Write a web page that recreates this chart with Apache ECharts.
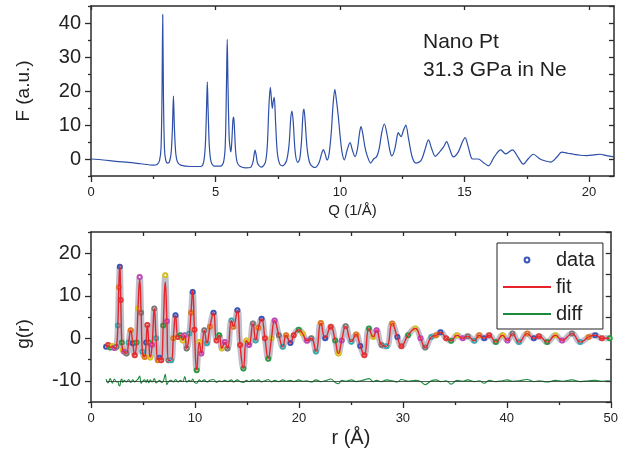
<!DOCTYPE html>
<html><head><meta charset="utf-8">
<script src="https://cdn.jsdelivr.net/npm/echarts@6/dist/echarts.min.js"></script>
<style>html,body{margin:0;padding:0;background:#fff}#c{width:621px;height:452px}</style>
</head><body><div id="c"></div>
<script>
// ---- Top panel: F(Q) ----
const qValues = [0,0.5,1.0,1.5,2.0,2.5,2.65,2.75,2.81,2.85,2.88,2.91,2.95,3.0,3.08,3.15,3.22,3.27,3.31,3.35,3.40,3.47,3.6,4.0,4.4,4.52,4.59,4.64,4.67,4.70,4.75,4.82,4.95,5.2,5.32,5.39,5.44,5.47,5.50,5.55,5.60,5.62,5.66,5.70,5.73,5.76,5.81,5.88,6.0,6.2,6.4,6.50,6.55,6.59,6.63,6.70,6.85,7.0,7.08,7.14,7.20,7.24,7.28,7.32,7.36,7.41,7.48,7.58,7.7,7.85,7.95,8.02,8.07,8.12,8.20,8.30,8.38,8.45,8.51,8.55,8.60,8.68,8.80,9.0,9.15,9.27,9.33,9.40,9.48,9.56,9.65,9.72,9.79,9.86,9.93,10.0,10.08,10.17,10.28,10.40,10.50,10.60,10.70,10.78,10.84,10.90,11.0,11.08,11.23,11.35,11.47,11.57,11.68,11.78,11.88,12.0,12.08,12.2,12.30,12.34,12.40,12.45,12.55,12.64,12.75,12.90,13.05,13.25,13.4,13.55,13.68,13.82,14.0,14.15,14.28,14.40,14.55,14.75,14.90,15.02,15.15,15.32,15.55,15.75,15.96,16.19,16.45,16.65,16.92,17.15,17.36,17.55,17.76,18.03,18.25,18.46,18.7,18.9,19.15,19.37,19.65,19.91,20.2,20.44,20.7,21.0];
const fValues = [0.0,-0.3,-0.7,-1.0,-1.4,-1.8,-1.6,-0.5,3,18,42.5,18,3,-0.3,-1.2,-0.8,2,9,18.5,9,2,-0.8,-1.8,-2.2,-2.2,-1.0,4,15,22.7,15,4,-0.8,-2.1,-2.1,-1.0,4,22,35.2,22,6,2.5,2.1,6,11.5,12.3,9,2,-1.2,-2.2,-2.6,-2.5,-1.0,1.3,2.6,1.3,-1.5,-2.4,-1.0,4,15,21.1,18,14.9,17,18.1,11,2,-1.5,-2.0,-0.5,4,12,14.1,11,2,-1.0,0,5,13,14.7,11,3,-1.5,-2.5,-1.2,1.8,2.8,1.5,-0.3,1.5,8,16,20.5,17,12.5,7.0,2.0,-0.3,2.5,4.8,2.5,0.7,3,7.5,9.5,8,3.5,1.2,-1.2,0,0.7,3,8,10.3,7.5,2.5,0.9,3,7,7.8,7,6.6,8.5,10.0,6,0.5,-1.2,-0.5,2.5,5.6,3,0.8,2.1,3.5,5.1,3,0.6,2.1,4.8,6.3,3.5,0.0,0.0,-1,-2.0,0.6,2.7,1.5,2.7,0.5,-1.5,0,1.4,0,-0.6,-0.9,0.5,2.0,1.7,1.4,1.1,1.0,1.2,1.4,1.0,0.6];
const qMajorTicks = [0,5,10,15,20];
const qMinorTicks = [2.5,7.5,12.5,17.5];
const fMajorTicks = [0,10,20,30,40];
const fMinorTicks = [-5,5,15,25,35,45];
const fAllTicks = [-5,0,5,10,15,20,25,30,35,40,45];

// ---- Bottom panel: g(r) ----
const rValues = [1.45,1.65,1.85,2.05,2.25,2.45,2.58,2.68,2.77,2.86,
2.96,3.06,3.19,3.41,3.62,3.82,4.02,4.21,4.38,4.52,
4.68,4.82,4.94,5.16,5.30,5.42,5.56,5.70,5.88,6.09,
6.26,6.44,6.60,6.76,6.95,7.14,7.30,7.46,7.71,7.92,
8.13,8.38,8.60,8.83,9.02,9.20,9.46,9.62,9.78,9.95,
10.17,10.42,10.61,10.90,11.15,11.44,11.79,12.08,12.33,12.59,
12.87,13.13,13.51,13.70,14.08,14.34,14.66,14.95,15.20,15.58,
15.84,16.10,16.41,16.73,17.05,17.36,17.66,18.07,18.45,18.77,
19.18,19.50,19.98,20.36,20.78,21.19,21.64,22.11,22.53,23.07,
23.49,23.80,24.12,24.50,25.05,25.50,25.90,26.29,26.74,27.15,
27.47,27.95,28.43,28.97,29.47,29.86,30.50,31.20,31.70,32.15,
32.73,33.20,33.62,34.16,34.64,35.21,35.76,36.24,36.87,37.35,
37.83,38.30,38.94,39.58,40.06,40.54,41.17,41.97,42.60,43.09,
43.88,44.68,45.32,46.27,47.07,47.87,48.50,49.14,49.90];
const gData = [-2.0,-1.6,-2.2,-1.8,-2.3,-2.0,3.0,12.0,16.8,9.0,
-1.0,-2.8,-3.2,-3.6,-1.0,1.9,-1.2,-4.0,-1.0,7.0,
14.4,6.0,-3.2,-4.4,-1.0,3.1,-1.0,-4.5,-1.5,7.0,
0.0,-5.2,-4.6,-5.2,3.0,14.8,4.0,-5.2,-5.2,0.0,
5.4,0.3,0.7,-0.5,0.7,-2.4,1.1,6.0,10.9,2.0,
-7.5,-0.9,-3.6,1.9,-1.2,2.7,6.0,-0.5,0.7,-2.4,
-0.9,-2.4,4.2,2.7,6.6,-1.6,-7.1,-0.5,-1.6,3.5,
-0.5,2.5,4.6,0.0,-4.8,0.0,4.2,0.7,-2.0,0.7,
-1.1,0.7,2.0,1.1,-0.6,0.0,-3.1,3.6,0.0,2.7,
-0.5,-3.6,-0.5,2.8,-0.8,0.9,-1.8,-4.0,2.3,0.3,
1.9,-1.6,-1.9,3.5,0.3,-1.9,0.7,2.3,0.0,-2.2,
0.3,0.7,1.4,0.0,-0.6,0.7,0.0,0.5,-0.6,0.7,
0.0,0.7,-0.9,0.7,-0.5,1.1,-0.9,1.1,0.0,0.5,
-0.9,0.7,-0.5,1.1,-0.9,0.3,0.7,0.0,0.0];
const gFit = [-2.0,-1.6,-2.2,-1.8,-2.3,-2.0,3.0,12.3,17.3,9.2,
-1.0,-2.8,-3.2,-3.6,-1.0,1.9,-1.2,-4.0,-1.0,6.8,
13.8,6.0,-3.2,-4.4,-1.0,3.1,-1.0,-4.5,-1.5,7.0,
0.0,-5.2,-4.6,-5.2,3.0,13.2,4.0,-5.2,-5.2,0.0,
5.4,0.3,0.7,-0.5,0.7,-2.4,1.1,6.0,11.2,2.0,
-7.5,-0.9,-3.6,1.9,-1.2,2.7,6.0,-0.5,0.7,-2.4,
-0.9,-2.4,4.2,2.7,6.6,-1.6,-7.1,-0.5,-1.6,3.5,
-0.5,2.5,4.6,0.0,-4.8,0.0,4.2,0.7,-2.0,0.7,
-1.1,0.7,2.0,1.1,-0.6,0.0,-3.1,3.6,0.0,2.7,
-0.5,-3.6,-0.5,2.8,-0.8,0.9,-1.8,-4.0,2.3,0.3,
1.9,-1.6,-1.9,3.5,0.3,-1.9,0.7,2.3,0.0,-2.2,
0.3,0.7,1.4,0.0,-0.6,0.7,0.0,0.5,-0.6,0.7,
0.0,0.7,-0.9,0.7,-0.5,1.1,-0.9,1.1,0.0,0.5,
-0.9,0.7,-0.5,1.1,-0.9,0.3,0.7,0.0,0.0];
const gDiff = [-9.6,-10.5,-9.5,-10.6,-9.6,-10.3,-10.2,-11.0,-11.2,-10.0,
-9.6,-10.4,-9.9,-10.3,-9.7,-10.4,-9.8,-10.3,-9.9,-9.6,
-8.9,-10.6,-10.2,-9.8,-10.4,-9.7,-10.5,-9.8,-10.3,-9.5,
-10.5,-10.2,-9.9,-10.4,-10.1,-8.5,-10.9,-10.2,-9.9,-10.3,
-9.7,-10.3,-9.9,-10.2,-9.0,-10.3,-9.9,-10.2,-9.6,-10.4,
-10.6,-9.8,-10.2,-9.8,-10.3,-9.9,-9.7,-10.4,-10.0,-10.2,
-9.9,-10.2,-9.8,-10.3,-9.8,-10.2,-10.4,-9.9,-10.2,-9.8,
-10.1,-9.8,-10.3,-10.0,-9.7,-10.3,-9.9,-10.2,-9.8,-10.1,
-9.9,-10.2,-9.8,-10.1,-10.0,-10.3,-9.8,-10.2,-10.0,-9.6,
-10.4,-10.7,-9.9,-10.1,-9.8,-10.2,-10.0,-9.8,-9.5,-10.2,
-9.9,-10.2,-9.8,-10.0,-10.3,-9.7,-10.1,-9.9,-10.2,-10.9,
-10.0,-9.8,-10.2,-10.0,-10.8,-9.9,-10.1,-9.8,-10.2,-10.0,
-10.6,-9.9,-10.2,-10.0,-9.8,-10.1,-10.0,-9.7,-10.2,-10.0,
-10.3,-9.9,-10.1,-9.8,-10.2,-10.0,-9.9,-10.1,-10.0];
const rMajorTicks = [0,10,20,30,40,50];
const rMinorTicks = [5,15,25,35,45];
const rTopTicks = [5,10,15,20,25,30,35,40,45];
const gMajorTicks = [-10,0,10,20];
const gMinorTicks = [-15,-5,5,15,25];
const gAllTicks = [-15,-10,-5,0,5,10,15,20,25];
const seriesNames = ['data','fit','diff'];
const annotation = 'Nano Pt\n31.3 GPa in Ne';

// ---- styling ----
const FONT = "'Liberation Sans', Arial, Helvetica, sans-serif";
const AX = '#2b2b2b';
const TXT = '#222';
const markerPalette = ['#3a55b8','#e03a3a','#2a9a48','#d8c020','#c048b8','#7a7a7a','#3aa8b0','#e07a20'];
const pairs = (xs, ys) => xs.map((x, i) => [x, ys[i]]);

function axis(o) {
  return Object.assign({
    type: 'value',
    splitLine: { show: false },
    axisLine: { show: true, onZero: false, lineStyle: { color: AX, width: 1.5 } },
    axisTick: { show: false },
    axisLabel: { show: false },
    silent: true
  }, o);
}
function ticks(values, len, inside) {
  return { show: true, customValues: values, length: len, inside: !!inside, lineStyle: { color: AX, width: 1.3 } };
}
function labels(values, size, margin) {
  return { show: true, customValues: values, fontSize: size, margin: margin, color: TXT, fontFamily: FONT };
}

const grids = [
  { left: 91, top: 6, width: 523, height: 170 },
  { left: 91, top: 232, width: 523, height: 170 }
];

const xAxes = [
  axis({ gridIndex: 0, position: 'bottom', min: 0, max: 21, axisTick: ticks(qMajorTicks, 6), axisLabel: labels(qMajorTicks, 13, 10),
         name: 'Q (1/Å)', nameLocation: 'middle', nameGap: 27, nameTextStyle: { fontSize: 15, color: TXT, fontFamily: FONT } }),
  axis({ gridIndex: 0, position: 'bottom', min: 0, max: 21, axisLine: { show: false, onZero: false }, axisTick: ticks(qMinorTicks, 3) }),
  axis({ gridIndex: 0, position: 'top', min: 0, max: 21, axisTick: ticks(qMajorTicks, 4, true) }),
  axis({ gridIndex: 1, position: 'bottom', min: 0, max: 50, axisTick: ticks(rMajorTicks, 6), axisLabel: labels(rMajorTicks, 13, 10),
         name: 'r (Å)', nameLocation: 'middle', nameGap: 26, nameTextStyle: { fontSize: 20, color: TXT, fontFamily: FONT } }),
  axis({ gridIndex: 1, position: 'bottom', min: 0, max: 50, axisLine: { show: false, onZero: false }, axisTick: ticks(rMinorTicks, 3) }),
  axis({ gridIndex: 1, position: 'top', min: 0, max: 50, axisTick: ticks(rTopTicks, 4, true) })
];
const yAxes = [
  axis({ gridIndex: 0, position: 'left', min: -5, max: 45, axisTick: ticks(fMajorTicks, 6), axisLabel: labels(fMajorTicks, 20, 10),
         name: 'F (a.u.)', nameLocation: 'middle', nameGap: 58, nameTextStyle: { fontSize: 19, color: TXT, fontFamily: FONT } }),
  axis({ gridIndex: 0, position: 'left', min: -5, max: 45, axisLine: { show: false, onZero: false }, axisTick: ticks(fMinorTicks, 3) }),
  axis({ gridIndex: 0, position: 'right', min: -5, max: 45, axisTick: ticks(fAllTicks, 5, true) }),
  axis({ gridIndex: 1, position: 'left', min: -15, max: 25, axisTick: ticks(gMajorTicks, 6), axisLabel: labels(gMajorTicks, 20, 10),
         name: 'g(r)', nameLocation: 'middle', nameGap: 58,
         nameTextStyle: { fontSize: 19, color: TXT, fontFamily: FONT, padding: [0, 34, 0, 0] } }),
  axis({ gridIndex: 1, position: 'left', min: -15, max: 25, axisLine: { show: false, onZero: false }, axisTick: ticks(gMinorTicks, 3) }),
  axis({ gridIndex: 1, position: 'right', min: -15, max: 25, axisTick: ticks(gAllTicks, 5, true) })
];

const dataPoints = rValues.map((r, i) => ({ value: [r, gData[i]], itemStyle: { color: markerPalette[i % markerPalette.length] } }));

const option = {
  animation: false,
  backgroundColor: '#fff',
  textStyle: { fontFamily: FONT },
  grid: grids,
  xAxis: xAxes,
  yAxis: yAxes,
  legend: {
    data: [
      { name: seriesNames[0], lineStyle: { opacity: 0, width: 0 }, itemStyle: { color: '#3a55b8', borderColor: '#3a55b8' } },
      { name: seriesNames[1], itemStyle: { opacity: 0 } },
      { name: seriesNames[2], itemStyle: { opacity: 0 } }
    ],
    orient: 'vertical', left: 497, top: 243,
    padding: [7, 8, 5, 5], itemGap: 7, itemWidth: 48, itemHeight: 6,
    borderColor: '#222', borderWidth: 1, borderRadius: 0,
    textStyle: { fontSize: 20, lineHeight: 20, color: TXT, fontFamily: FONT },
    selectedMode: false
  },
  graphic: [
    { type: 'text', left: 423, top: 28, silent: true,
      style: { text: annotation, fontSize: 21, lineHeight: 28, fill: TXT, fontFamily: FONT } }
  ],
  series: [
    { type: 'line', xAxisIndex: 0, yAxisIndex: 0, data: pairs(qValues, fValues), showSymbol: false, smooth: 0.3,
      lineStyle: { color: '#2d4fa8', width: 1.2 }, itemStyle: { color: '#2d4fa8' }, silent: true },
    { name: seriesNames[0], type: 'line', xAxisIndex: 3, yAxisIndex: 3, data: dataPoints,
      symbol: 'emptyCircle', symbolSize: 4, showSymbol: true, showAllSymbol: true, smooth: 0.5,
      lineStyle: { width: 6, color: '#8a8aa0', opacity: 0.55 }, itemStyle: { color: '#3a55b8', borderWidth: 1 }, z: 2, silent: true },
    { name: seriesNames[1], type: 'line', xAxisIndex: 3, yAxisIndex: 3, data: pairs(rValues, gFit), showSymbol: false, smooth: 0.5,
      lineStyle: { color: '#e8232a', width: 1.4 }, itemStyle: { color: '#e8232a' }, z: 3, silent: true },
    { name: seriesNames[2], type: 'line', xAxisIndex: 3, yAxisIndex: 3, data: pairs(rValues, gDiff), showSymbol: false, smooth: 0.4,
      lineStyle: { color: '#1b8a3c', width: 1.1 }, itemStyle: { color: '#1b8a3c' }, z: 3, silent: true,
      markLine: { silent: true, symbol: 'none', label: { show: false },
        lineStyle: { color: '#2a3a2e', width: 1, type: 'solid', opacity: 0.8 },
        data: [[{ coord: [rValues[0], -10] }, { coord: [50, -10] }]] } }
  ]
};
echarts.init(document.getElementById('c'), null, { renderer: 'canvas' }).setOption(option);
</script>
</body></html>
